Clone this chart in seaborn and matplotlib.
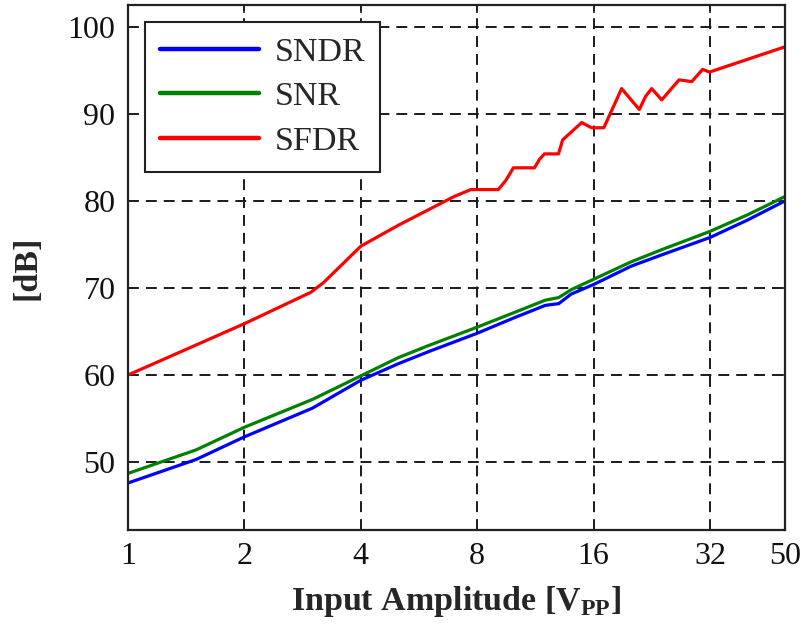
import numpy as np
import pandas as pd
import matplotlib
matplotlib.use("Agg")
import matplotlib.pyplot as plt
import seaborn as sns

# Input amplitude sweep (Vpp) and measured dynamic metrics (dB)
amp_noise = [1, 1.5, 2, 3, 4, 5, 6, 8, 10, 12, 13, 14, 16, 20, 24, 32, 40, 50]
sndr = [47.6, 50.3, 52.9, 56.2, 59.4, 61.3, 62.7, 64.8, 66.6, 68.0, 68.2, 69.3, 70.4,
        72.5, 73.8, 75.8, 77.8, 80.0]
snr = [48.7, 51.4, 54.0, 57.2, 59.9, 62.0, 63.4, 65.5, 67.2, 68.6, 68.9, 69.8, 71.0,
       73.0, 74.4, 76.5, 78.4, 80.5]

amp_sfdr = [1, 2, 2.97, 3.2, 4.0, 5.0, 6.97, 7.7, 9.07, 9.5, 9.92, 11.25, 11.6, 11.94,
            12.98, 13.3, 14.9, 15.8, 17.0, 18.9, 21.0, 21.8, 22.6, 24.0, 26.6, 28.7,
            30.6, 31.9, 50]
sfdr = [60.0, 65.9, 69.5, 70.6, 74.8, 77.2, 80.5, 81.3, 81.3, 82.4, 83.8, 83.8, 84.8,
        85.4, 85.4, 87.0, 89.0, 88.4, 88.4, 92.9, 90.5, 92.0, 92.9, 91.6, 93.9, 93.7,
        95.1, 94.8, 97.7]

series_names = ["SNDR", "SNR", "SFDR"]
series_colors = {"SNDR": "#0000ff", "SNR": "#008000", "SFDR": "#ff0000"}
x_ticks = [1, 2, 4, 8, 16, 32, 50]
y_ticks = [50, 60, 70, 80, 90, 100]

df = pd.concat([
    pd.DataFrame({"amp": amp_noise, "dB": sndr, "metric": "SNDR"}),
    pd.DataFrame({"amp": amp_noise, "dB": snr, "metric": "SNR"}),
    pd.DataFrame({"amp": amp_sfdr, "dB": sfdr, "metric": "SFDR"}),
], ignore_index=True)

sns.set_theme(style="white")
plt.rcParams["font.family"] = ["Liberation Serif", "DejaVu Serif"]
plt.rcParams["mathtext.fontset"] = "custom"
plt.rcParams["mathtext.rm"] = "Liberation Serif"
plt.rcParams["mathtext.bf"] = "Liberation Serif:bold"

fig = plt.figure(figsize=(8.03, 6.30), dpi=100)
ax = fig.add_axes([128 / 803, 100 / 630, 657 / 803, 525 / 630])

sns.lineplot(data=df, x="amp", y="dB", hue="metric", hue_order=series_names,
             palette=series_colors, linewidth=2.3, ax=ax, sort=False,
             estimator=None, legend=False)

ax.set_xscale("log", base=2)
ax.set_xlim(1, 50)
ax.set_ylim(42.2, 102.5)
ax.set_xticks(x_ticks)
ax.set_xticklabels([str(t) for t in x_ticks])
ax.set_yticks(y_ticks)
ax.set_yticklabels([str(t) for t in y_ticks])
ax.minorticks_off()

ax.grid(True, which="major", color="#1a1a1a", linestyle=(0, (5.6, 3.6)), linewidth=1.4)
ax.set_axisbelow(True)
for s in ax.spines.values():
    s.set_color("#222222")
    s.set_linewidth(1.6)
    s.set_visible(True)

ax.tick_params(axis="both", which="major", direction="in", length=6, width=1.2,
               top=True, right=True, labelsize=23, colors="#222222", pad=9)
for lab in ax.get_xticklabels() + ax.get_yticklabels():
    lab.set_color("#111111")

ax.set_xlabel(r"Input Amplitude [V$_{\mathbf{PP}}$]", fontsize=24.5, fontweight="bold",
              labelpad=9)
ax.set_ylabel("[dB]", fontsize=24.5, fontweight="bold", labelpad=18)

handles = [plt.Line2D([], [], color=series_colors[n], linewidth=3.2) for n in series_names]
leg = ax.legend(handles, series_names, loc="upper left", bbox_to_anchor=(0.026, 0.968),
                borderaxespad=0, fontsize=24.5, frameon=True, fancybox=False,
                edgecolor="#222222", framealpha=1, handlelength=2.9,
                handletextpad=0.45, labelspacing=0.4, borderpad=0.45)
leg.get_frame().set_linewidth(1.5)

fig.savefig("out.png", dpi=100)
